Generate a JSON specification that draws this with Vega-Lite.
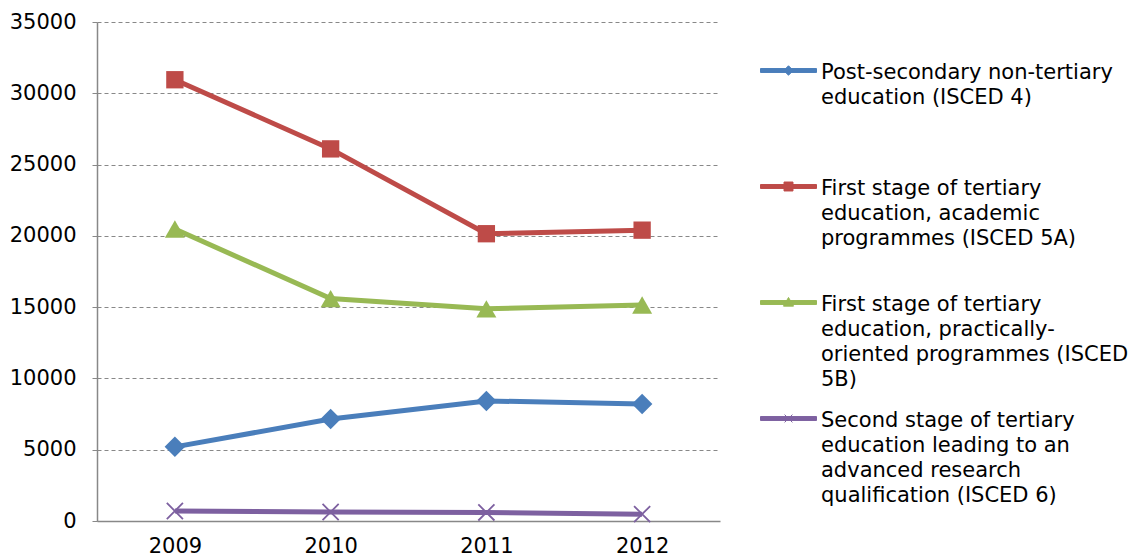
{
  "$schema": "https://vega.github.io/schema/vega-lite/v6.json",
  "width": 623,
  "height": 499,
  "autosize": "none",
  "padding": {"left": 97, "top": 22, "right": 422, "bottom": 36},
  "background": "white",
  "config": {
    "font": "DejaVu Sans",
    "view": {"stroke": null},
    "axis": {"labelFont": "DejaVu Sans", "labelFontSize": 21, "labelColor": "#000000"}
  },
  "data": {
    "values": [
      {"year": "2009", "series": "Post-secondary non-tertiary education (ISCED 4)", "value": 5200},
      {"year": "2010", "series": "Post-secondary non-tertiary education (ISCED 4)", "value": 7150},
      {"year": "2011", "series": "Post-secondary non-tertiary education (ISCED 4)", "value": 8420},
      {"year": "2012", "series": "Post-secondary non-tertiary education (ISCED 4)", "value": 8210},
      {"year": "2009", "series": "First stage of tertiary education, academic programmes (ISCED 5A)", "value": 30950},
      {"year": "2010", "series": "First stage of tertiary education, academic programmes (ISCED 5A)", "value": 26100},
      {"year": "2011", "series": "First stage of tertiary education, academic programmes (ISCED 5A)", "value": 20150},
      {"year": "2012", "series": "First stage of tertiary education, academic programmes (ISCED 5A)", "value": 20400},
      {"year": "2009", "series": "First stage of tertiary education, practically-oriented programmes (ISCED 5B)", "value": 20480},
      {"year": "2010", "series": "First stage of tertiary education, practically-oriented programmes (ISCED 5B)", "value": 15600},
      {"year": "2011", "series": "First stage of tertiary education, practically-oriented programmes (ISCED 5B)", "value": 14880},
      {"year": "2012", "series": "First stage of tertiary education, practically-oriented programmes (ISCED 5B)", "value": 15150},
      {"year": "2009", "series": "Second stage of tertiary education leading to an advanced research qualification (ISCED 6)", "value": 700},
      {"year": "2010", "series": "Second stage of tertiary education leading to an advanced research qualification (ISCED 6)", "value": 630},
      {"year": "2011", "series": "Second stage of tertiary education leading to an advanced research qualification (ISCED 6)", "value": 600},
      {"year": "2012", "series": "Second stage of tertiary education leading to an advanced research qualification (ISCED 6)", "value": 480}
    ]
  },
  "encoding": {
    "x": {
      "field": "year", "type": "ordinal", "title": null,
      "scale": {"type": "point", "padding": 0.5},
      "axis": {"labelAngle": 0, "domainColor": "#888888", "domainWidth": 1.5, "ticks": false, "labelPadding": 14, "labelBaseline": "top", "grid": false}
    },
    "y": {
      "field": "value", "type": "quantitative", "title": null,
      "scale": {"domain": [0, 35000], "nice": false},
      "axis": {
        "values": [0, 5000, 10000, 15000, 20000, 25000, 30000, 35000],
        "format": "d",
        "domainColor": "#888888", "domainWidth": 1.5,
        "tickColor": "#888888", "tickSize": 5, "labelPadding": 16,
        "gridColor": "#888888", "gridDash": [4, 3], "gridWidth": 1
      }
    }
  },
  "layer": [
    {
      "mark": {"type": "line", "strokeWidth": 5},
      "encoding": {
        "color": {
          "field": "series", "type": "nominal", "title": null,
          "scale": {
            "domain": [
              "Post-secondary non-tertiary education (ISCED 4)",
              "First stage of tertiary education, academic programmes (ISCED 5A)",
              "First stage of tertiary education, practically-oriented programmes (ISCED 5B)",
              "Second stage of tertiary education leading to an advanced research qualification (ISCED 6)"
            ],
            "range": ["#4A7EBB", "#BE4B48", "#98B954", "#7D60A0"]
          },
          "legend": {
            "orient": "none",
            "legendX": 663,
            "legendY": 20,
            "direction": "vertical",
            "gridAlign": "all",
            "rowPadding": 0,
            "symbolType": "square",
            "symbolSize": 3136,
            "symbolStrokeWidth": 1,
            "labelFont": "DejaVu Sans",
            "labelFontSize": 21,
            "labelColor": "#000000",
            "labelBaseline": "top",
            "labelOffset": 4,
            "labelLimit": 400,
            "labelExpr": "indexof(datum.label, 'ISCED 4') >= 0 ? ['Post-secondary non-tertiary', 'education (ISCED 4)'] : indexof(datum.label, 'ISCED 5A') >= 0 ? ['First stage of tertiary', 'education, academic', 'programmes (ISCED 5A)'] : indexof(datum.label, 'ISCED 5B') >= 0 ? ['First stage of tertiary', 'education, practically-', 'oriented programmes (ISCED', '5B)'] : ['Second stage of tertiary', 'education leading to an', 'advanced research', 'qualification (ISCED 6)']",
            "encode": {
              "labels": {"update": {"lineHeight": {"value": 25}, "dy": {"value": -9}}},
              "symbols": {
                "update": {
                  "shape": {"signal": "indexof(datum.value, 'ISCED 4') >= 0 ? 'M-1,-0.07H1V0.07H-1Z M0,-0.17L0.17,0L0,0.17L-0.17,0Z' : indexof(datum.value, 'ISCED 5A') >= 0 ? 'M-1,-0.07H1V0.07H-1Z M-0.16,-0.16H0.16V0.16H-0.16Z' : indexof(datum.value, 'ISCED 5B') >= 0 ? 'M-1,-0.07H1V0.07H-1Z M0,-0.18L0.18,0.13H-0.18Z' : 'M-1,-0.07H1V0.07H-1Z M-0.14,-0.14L0.14,0.14M-0.14,0.14L0.14,-0.14'"},
                  "fill": {"scale": "color", "field": "value"},
                  "stroke": {"scale": "color", "field": "value"},
                  "strokeWidth": {"value": 1},
                  "size": {"value": 3136},
                  "opacity": {"value": 1}
                }
              }
            }
          }
        }
      }
    },
    {
      "transform": [{"filter": "indexof(datum.series, 'ISCED 4') >= 0"}],
      "mark": {"type": "point", "shape": "diamond", "filled": true, "size": 420, "opacity": 1, "color": "#4A7EBB"}
    },
    {
      "transform": [{"filter": "indexof(datum.series, 'ISCED 5A') >= 0"}],
      "mark": {"type": "point", "shape": "square", "filled": true, "size": 300, "opacity": 1, "color": "#BE4B48"}
    },
    {
      "transform": [{"filter": "indexof(datum.series, 'ISCED 5B') >= 0"}],
      "mark": {"type": "point", "shape": "triangle-up", "filled": true, "size": 400, "opacity": 1, "color": "#98B954"}
    },
    {
      "transform": [{"filter": "indexof(datum.series, 'ISCED 6') >= 0"}],
      "mark": {"type": "point", "shape": "M-1,-1L1,1M-1,1L1,-1", "filled": false, "size": 260, "opacity": 1, "strokeWidth": 1.8, "color": "#7D60A0"}
    }
  ]
}
